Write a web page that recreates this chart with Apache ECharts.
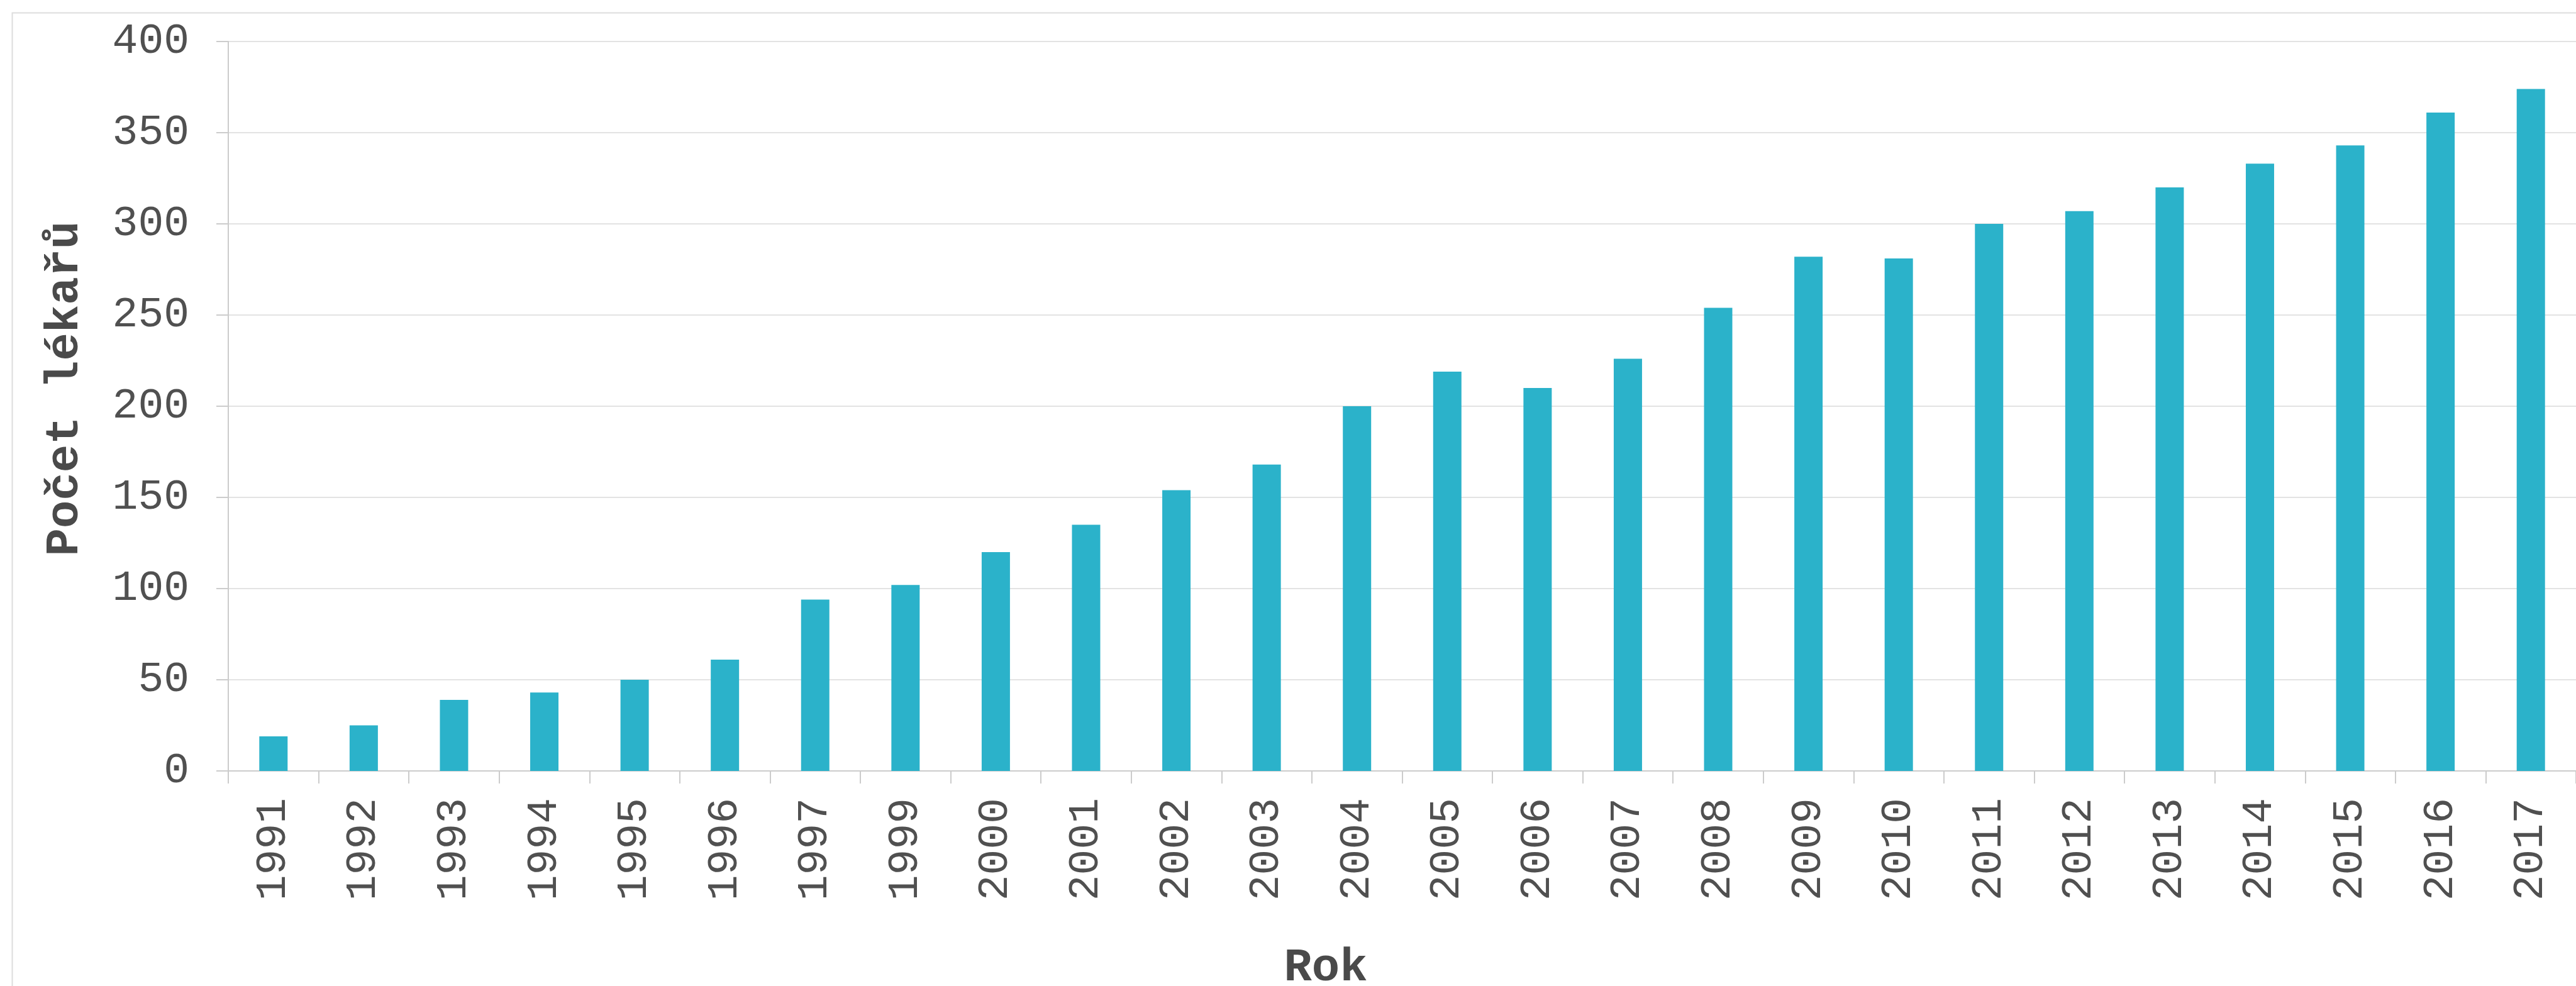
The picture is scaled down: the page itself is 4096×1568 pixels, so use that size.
<!DOCTYPE html>
<html>
<head>
<meta charset="utf-8">
<script src="https://cdn.jsdelivr.net/npm/echarts@6/dist/echarts.min.js"></script>
<style>html,body{margin:0;padding:0;background:#fff;}#c{width:4096px;height:1568px;}</style>
</head>
<body>
<div id="c"></div>
<script>
const years = ['1991','1992','1993','1994','1995','1996','1997','1999','2000','2001','2002','2003','2004','2005','2006','2007','2008','2009','2010','2011','2012','2013','2014','2015','2016','2017'];
const doctors = [19,25,39,43,50,61,94,102,120,135,154,168,200,219,210,226,254,282,281,300,307,320,333,343,361,374];
const yTicks = {min:0, max:400, interval:50};
const yTitle = 'Počet lékařů';
const xTitle = 'Rok';

const FONT = '"Liberation Mono", "Courier New", monospace';
const chart = echarts.init(document.getElementById('c'), null, {renderer:'canvas'});
chart.setOption({
  animation:false,
  backgroundColor:'#ffffff',
  grid:{left:363, top:66, right:-4, bottom:342, containLabel:false},
  graphic:[
    {type:'rect', left:17, top:18, shape:{x:0,y:0,width:4200,height:1700}, style:{fill:'none', stroke:'#dddddd', lineWidth:2}, z:-10},
    {type:'text', x:104, y:618, rotation:Math.PI/2, style:{text:yTitle, font:'bold 74px '+FONT, fill:'#4a4a4a', align:'center', verticalAlign:'middle', textAlign:'center', textVerticalAlign:'middle'}},
    {type:'text', x:2108, y:1540, style:{text:xTitle, font:'bold 74px '+FONT, fill:'#4a4a4a', align:'center', verticalAlign:'middle', textAlign:'center', textVerticalAlign:'middle'}}
  ],
  xAxis:{
    type:'category', data:years, boundaryGap:true,
    axisLine:{show:true, lineStyle:{color:'#cccccc', width:2}},
    axisTick:{show:true, length:20, lineStyle:{color:'#cccccc', width:2}, alignWithLabel:false},
    axisLabel:{interval:0, rotate:90, margin:43, fontFamily:FONT, fontSize:68, color:'#505050'},
    splitLine:{show:false}
  },
  yAxis:{
    type:'value', min:yTicks.min, max:yTicks.max, interval:yTicks.interval,
    axisLine:{show:true, lineStyle:{color:'#cccccc', width:2}},
    axisTick:{show:true, length:19, lineStyle:{color:'#cccccc', width:2}},
    axisLabel:{margin:62, fontFamily:FONT, fontSize:68, color:'#505050'},
    splitLine:{show:true, lineStyle:{color:'#e3e3e3', width:2}}
  },
  series:[{type:'bar', data:doctors, barWidth:45, itemStyle:{color:'#2bb2ca'}}]
});
</script>
</body>
</html>
